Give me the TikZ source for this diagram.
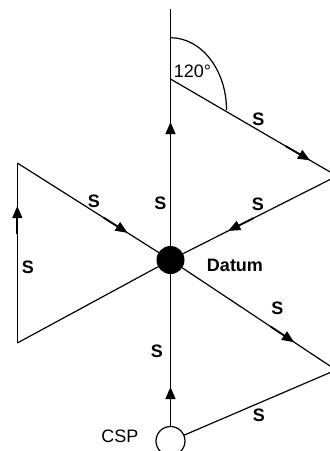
\documentclass[tikz,border=0pt]{standalone}
\usepackage{fontspec}
\setmainfont{Liberation Sans}
\usetikzlibrary{arrows.meta,decorations.markings}
\tikzset{
  edge/.style={line width=1.2pt},
  tipat/.style={postaction={decorate},decoration={markings,mark=at position #1 with {\draw[line width=1.8pt] (-28pt,0) -- (-8pt,0);\arrow{Triangle[length=12pt,width=10pt]}}}},
  lbl/.style={font=\fontsize{18}{20}\selectfont\bfseries, inner sep=0pt},
  txt/.style={font=\fontsize{18}{20}\selectfont, inner sep=0pt},
  datumdot/.style={circle, fill=black, minimum size=28pt, inner sep=0pt},
  cspdot/.style={circle, draw, fill=white, line width=1.2pt, minimum size=29pt, inner sep=0pt}
}
\begin{document}
\begin{tikzpicture}[x=1pt,y=-1pt]
\useasboundingbox (0,0) rectangle (330,451);
\coordinate (top) at (170.5,9);
\coordinate (A) at (170.5,79);
\coordinate (R1) at (337,176);
\coordinate (L1) at (17.3,163);
\coordinate (L2) at (17.3,343);
\coordinate (R2) at (336,370);
\coordinate (D) at (170.5,260);
\coordinate (C) at (170.5,441);
% edges
\draw[edge] (top) -- (A);
\draw[edge,tipat=0.762] (D) -- (A);
\draw[edge,tipat=0.838] (A) -- (R1);
\draw[edge,tipat=0.653] (R1) -- (D);
\draw[edge,tipat=0.719] (L1) -- (D);
\draw[edge] (D) -- (L2);
\draw[edge,tipat=0.761] (L2) -- (L1);
\draw[edge,tipat=0.747] (D) -- (R2);
\draw[edge] (C) -- (R2);
\draw[edge,tipat=0.298] (C) -- (D);
% angle arc
\draw[edge] (170.5,37.7) arc[start angle=90, end angle=0, x radius=56pt, y radius=72.3pt];
% nodes
\node[datumdot] (datum) at (D) {};
\node[cspdot] (csp) at (C) {};
% labels
\node[txt] (ang) at (192.5,71.7) {120°};
\node[lbl] (s1) at (258.4,119.5) {S};
\node[lbl] (s2) at (160.3,203) {S};
\node[lbl] (s3) at (93.8,201) {S};
\node[lbl] (s4) at (28,267) {S};
\node[lbl] (s5) at (258,204) {S};
\node[lbl] (dl) at (235,265) {Datum};
\node[lbl] (s6) at (277.5,308) {S};
\node[lbl] (s7) at (157,351.7) {S};
\node[lbl] (s8) at (259,415) {S};
\node[txt] (cspl) at (120,436.7) {CSP};
\end{tikzpicture}
\end{document}
